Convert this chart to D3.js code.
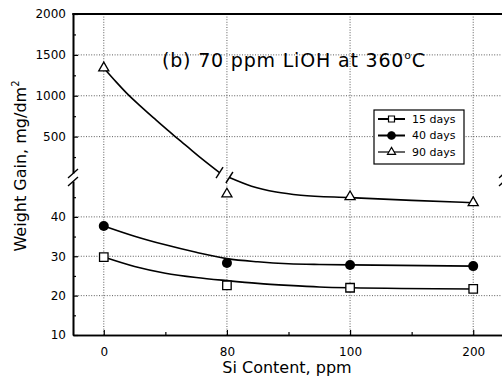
<!DOCTYPE html>
<html>
<head>
<meta charset="utf-8">
<script src="https://cdn.jsdelivr.net/npm/d3@7"></script>
<style>
  body { margin: 0; background: #fff; }
  svg { display: block; font-family: "DejaVu Sans", sans-serif; }
</style>
</head>
<body>
<svg id="chart" width="502" height="380"></svg>
<script>
const si_labels = ["0", "80", "100", "200"];
const series_names = ["15 days", "40 days", "90 days"];
const days15 = [29.8, 22.6, 22.0, 21.7];
const days40 = [37.7, 28.3, 27.8, 27.5];
const days90 = [1340, 45.8, 45.1, 43.6];

// fitted curves as drawn in the figure: [position index, value]
const fit15 = [[0, 29.8], [0.25, 27.4], [0.5, 25.7], [0.75, 24.6], [1, 23.8], [1.25, 23.1], [1.5, 22.6], [1.75, 22.2], [2, 22.0], [3, 21.7]];
const fit40 = [[0, 37.7], [0.25, 35.1], [0.5, 32.9], [0.75, 31.0], [1, 29.4], [1.25, 28.6], [1.5, 28.1], [1.75, 27.9], [2, 27.8], [3, 27.5]];
const fit90_upper = [[0, 1340], [0.1, 1170], [0.2, 1010], [0.3, 870], [0.4, 735], [0.5, 605], [0.6, 475], [0.7, 350], [0.8, 225], [0.94, 60]];
const fit90_lower = [[1.02, 50.0], [1.2, 47.8], [1.4, 46.3], [1.6, 45.5], [2, 44.9], [2.5, 44.2], [3, 43.6]];

const upper_ticks = [500, 1000, 1500, 2000];
const upper_minor = [250, 750, 1250, 1750];
const lower_ticks = [10, 20, 30, 40];
const lower_minor = [15, 25, 35, 45];

const svg = d3.select("#chart");
const m_left = 73, m_right = 504, m_top = 14, m_bottom = 335, brk = 177.5;

const x = d3.scaleLinear().domain([-0.25, 3.25]).range([m_left, m_right]);
const y_up = d3.scaleLinear().domain([0, 2000]).range([brk, m_top]);
const y_lo = d3.scaleLinear().domain([10, 50]).range([m_bottom, brk]);
const y = v => v > 50 ? y_up(v) : y_lo(v);

// grid
const grid = svg.append("g")
    .attr("stroke", "#333")
    .attr("stroke-width", 0.8)
    .attr("stroke-dasharray", "1,1.6");
grid.selectAll("line.h")
  .data([1500, 1000, 500, 40, 30, 20])
  .join("line")
    .attr("class", "h")
    .attr("x1", m_left).attr("x2", m_right)
    .attr("y1", d => y(d)).attr("y2", d => y(d));
grid.selectAll("line.v")
  .data(d3.range(si_labels.length))
  .join("line")
    .attr("class", "v")
    .attr("x1", d => x(d)).attr("x2", d => x(d))
    .attr("y1", m_top).attr("y2", m_bottom);

// curves
const line = d3.line()
    .x(d => x(d[0]))
    .y(d => y(d[1]))
    .curve(d3.curveMonotoneX);

svg.selectAll("path.fit")
  .data([fit15, fit40, fit90_upper, fit90_lower])
  .join("path")
    .attr("class", "fit")
    .attr("d", line)
    .attr("fill", "none")
    .attr("stroke", "#000")
    .attr("stroke-width", 1.6);

// break marks on the 90 days curve
const slash = (g, cx, cy, dx, dy) => g.append("line")
    .attr("x1", cx - dx).attr("y1", cy + dy)
    .attr("x2", cx + dx).attr("y2", cy - dy)
    .attr("stroke", "#000").attr("stroke-width", 1.4);

const last_up = fit90_upper[fit90_upper.length - 1];
const first_lo = fit90_lower[0];
slash(svg, x(last_up[0]), y(last_up[1]), 3.5, 5.5);
slash(svg, x(first_lo[0]), y(first_lo[1]), 3.5, 5.5);

// markers
const sym_square = d3.symbol().type(d3.symbolSquare).size(72);
const sym_triangle = d3.symbol().type(d3.symbolTriangle).size(44);

svg.append("g").selectAll("path")
  .data(days15)
  .join("path")
    .attr("transform", (d, i) => `translate(${x(i)},${y(d)})`)
    .attr("d", sym_square)
    .attr("fill", "#fff").attr("stroke", "#000").attr("stroke-width", 1.3);

svg.append("g").selectAll("circle")
  .data(days40)
  .join("circle")
    .attr("cx", (d, i) => x(i)).attr("cy", d => y(d))
    .attr("r", 5)
    .attr("fill", "#000");

svg.append("g").selectAll("path")
  .data(days90)
  .join("path")
    .attr("transform", (d, i) => `translate(${x(i)},${y(d)})`)
    .attr("d", sym_triangle)
    .attr("fill", "#fff").attr("stroke", "#000").attr("stroke-width", 1.3);

// axes
function style_axis(g, size) {
  g.selectAll("path.domain").attr("stroke", "#000").attr("stroke-width", 1.6);
  g.selectAll(".tick line").attr("stroke", "#000").attr("stroke-width", 1.2);
  g.selectAll("text").attr("font-family", "DejaVu Sans").attr("font-size", size).attr("fill", "#000");
}

const fmt = d3.format("d");

svg.append("g")
    .attr("transform", `translate(${m_left},0)`)
    .call(d3.axisLeft(y_up).tickValues(upper_ticks).tickFormat(fmt).tickSize(-5).tickSizeOuter(0).tickPadding(7))
    .call(style_axis, 12);
svg.append("g")
    .attr("transform", `translate(${m_left},0)`)
    .call(d3.axisLeft(y_up).tickValues(upper_minor).tickSize(-3).tickSizeOuter(0).tickFormat(""))
    .call(style_axis, 12);
svg.append("g")
    .attr("transform", `translate(${m_left},0)`)
    .call(d3.axisLeft(y_lo).tickValues(lower_ticks).tickFormat(fmt).tickSize(-5).tickSizeOuter(0).tickPadding(7))
    .call(style_axis, 12);
svg.append("g")
    .attr("transform", `translate(${m_left},0)`)
    .call(d3.axisLeft(y_lo).tickValues(lower_minor).tickSize(-3).tickSizeOuter(0).tickFormat(""))
    .call(style_axis, 12);

svg.append("g")
    .attr("transform", `translate(0,${m_bottom})`)
    .call(d3.axisBottom(x).tickValues(d3.range(si_labels.length)).tickFormat(i => si_labels[i])
      .tickSize(-5).tickSizeOuter(0).tickPadding(12))
    .call(style_axis, 12);
svg.append("g")
    .attr("transform", `translate(0,${m_bottom})`)
    .call(d3.axisBottom(x).tickValues([0.5, 1.5, 2.5]).tickSize(-3).tickSizeOuter(0).tickFormat(""))
    .call(style_axis, 12);

svg.append("line")
    .attr("x1", m_left - 0.8).attr("x2", m_right)
    .attr("y1", m_top).attr("y2", m_top)
    .attr("stroke", "#000").attr("stroke-width", 1.8);

// axis break marks
[m_left, m_right].forEach(ax => {
  svg.append("rect")
      .attr("x", ax - 3).attr("y", brk - 4)
      .attr("width", 6).attr("height", 8)
      .attr("fill", "#fff");
  slash(svg, ax, brk - 4, 5, 4.5);
  slash(svg, ax, brk + 4, 5, 4.5);
});

// titles
svg.append("text")
    .attr("x", 162).attr("y", 67)
    .attr("font-size", 19)
    .attr("textLength", 263)
    .call(t => {
      t.append("tspan").text("(b) 70 ppm LiOH at 360");
      t.append("tspan").attr("font-size", 11).attr("dy", -8).text("o");
      t.append("tspan").attr("dy", 8).text("C");
    });

svg.append("text")
    .attr("x", 287).attr("y", 373)
    .attr("text-anchor", "middle")
    .attr("font-size", 16)
    .text("Si Content, ppm");

svg.append("text")
    .attr("transform", "translate(26,166) rotate(-90)")
    .attr("text-anchor", "middle")
    .attr("font-size", 16)
    .call(t => {
      t.append("tspan").text("Weight Gain, mg/dm");
      t.append("tspan").attr("font-size", 10).attr("dy", -7).text("2");
    });

// legend
const legend = svg.append("g").attr("transform", "translate(374,110)");
legend.append("rect")
    .attr("width", 90).attr("height", 54)
    .attr("fill", "#fff").attr("stroke", "#000").attr("stroke-width", 1.2);

const leg_rows = legend.selectAll("g.row")
  .data(series_names)
  .join("g")
    .attr("class", "row")
    .attr("transform", (d, i) => `translate(0,${9 + i * 16.5})`);
leg_rows.append("line")
    .attr("x1", 4).attr("x2", 31)
    .attr("stroke", "#000")
    .attr("stroke-width", (d, i) => i < 2 ? 2 : 1.2);
leg_rows.append("path")
    .attr("transform", "translate(17.5,0)")
    .attr("d", (d, i) => i === 0 ? d3.symbol().type(d3.symbolSquare).size(36)()
      : i === 1 ? d3.symbol().type(d3.symbolCircle).size(44)()
      : d3.symbol().type(d3.symbolTriangle).size(28)())
    .attr("fill", (d, i) => i === 1 ? "#000" : "#fff")
    .attr("stroke", "#000").attr("stroke-width", 1.2);
leg_rows.append("text")
    .attr("x", 38).attr("dy", "0.36em")
    .attr("font-size", 11)
    .text(d => d);
</script>
</body>
</html>
